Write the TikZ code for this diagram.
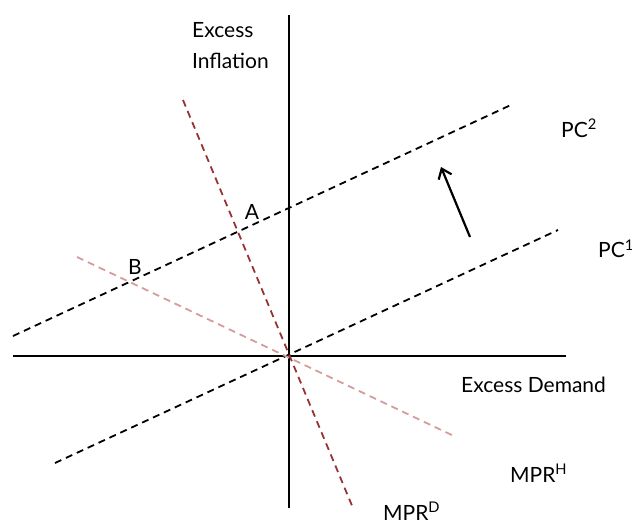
\documentclass[tikz,border=0pt]{standalone}
\usepackage{fontspec}
\setmainfont{Lato}
\usetikzlibrary{arrows.meta}
\begin{document}
\begin{tikzpicture}[x=1pt,y=-1pt,
  axis/.style={line width=2pt,black},
  pcline/.style={line width=1.8pt,black,dash pattern=on 7pt off 5pt},
  mprd/.style={line width=1.8pt,draw={rgb,255:red,150;green,50;blue,50},dash pattern=on 7pt off 5pt},
  mprh/.style={line width=1.8pt,draw={rgb,255:red,214;green,156;blue,156},dash pattern=on 7pt off 5pt},
  lbl/.style={font=\fontsize{21}{31}\selectfont,inner sep=0pt},
  shiftarrow/.style={line width=2.2pt,-{Straight Barb[length=9pt,width=14pt,line width=2.2pt]}}
]
\useasboundingbox (0,0) rectangle (632,525);
% axes
\coordinate (vtop) at (289,15);
\coordinate (vbot) at (289,508);
\coordinate (hleft) at (13,356);
\coordinate (hright) at (566,356);
\draw[axis] (vtop) -- (vbot);
\draw[axis] (hleft) -- (hright);
% Phillips curves
\coordinate (pc1a) at (55,463);
\coordinate (pc1b) at (558,230);
\coordinate (pc2a) at (13,336);
\coordinate (pc2b) at (513,104);
\draw[pcline] (pc1a) -- (pc1b);
\draw[pcline] (pc2a) -- (pc2b);
% MPR lines
\coordinate (mprda) at (183,100);
\coordinate (mprdb) at (353,508);
\coordinate (mprha) at (77,257);
\coordinate (mprhb) at (456,437);
\draw[mprh] (mprha) -- (mprhb);
\draw[mprd] (mprda) -- (mprdb);
% arrow
\coordinate (arrs) at (470,237);
\coordinate (arre) at (441,167);
\draw[shiftarrow] (arrs) -- (arre);
% labels
\node[lbl,anchor=west,align=left] (yl) at (192,46) {Excess\\Inflation};
\node[lbl,anchor=west] (xl) at (461,385) {Excess Demand};
\node[lbl,anchor=west] (pc2) at (561,128) {PC\textsuperscript{2}};
\node[lbl,anchor=west] (pc1) at (598,249) {PC\textsuperscript{1}};
\node[lbl,anchor=west] (mh) at (510,473) {MPR\textsuperscript{H}};
\node[lbl,anchor=west] (md) at (383,511) {MPR\textsuperscript{D}};
\node[lbl] (A) at (252,212) {A};
\node[lbl] (B) at (135,267) {B};
\end{tikzpicture}
\end{document}
